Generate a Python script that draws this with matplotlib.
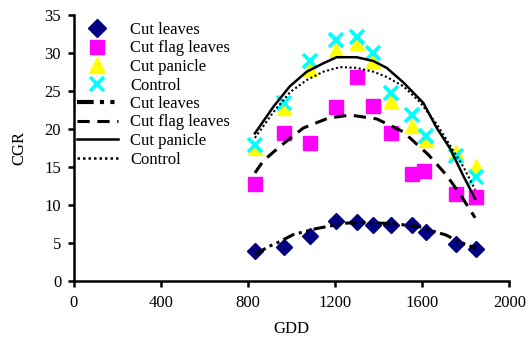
import matplotlib
matplotlib.use("Agg")
import matplotlib.pyplot as plt
from matplotlib.lines import Line2D

# Observed crop growth rate (CGR) against growing degree days (GDD)
gdd = [832, 966, 1085, 1203, 1302, 1376, 1455, 1552, 1616, 1755, 1847]
cut_leaves = [4.0, 4.5, 5.9, 7.9, 7.7, 7.3, 7.4, 7.4, 6.45, 4.8, 4.2]
gdd_flag = [832, 966, 1085, 1203, 1302, 1376, 1455, 1552, 1610, 1755, 1847]
cut_flag_leaves = [12.8, 19.5, 18.1, 22.9, 26.75, 23.0, 19.5, 14.1, 14.5, 11.45, 11.1]
cut_panicle = [17.5, 22.7, 27.8, 30.4, 31.3, 28.9, 23.6, 20.3, 18.55, 17.0, 15.1]
control = [17.9, 23.4, 28.9, 31.7, 32.0, 30.0, 24.7, 21.8, 19.0, 16.4, 13.7]

# Fitted response curves
fit_leaves_x = [832, 901, 948, 1008, 1116, 1246, 1345, 1483, 1590, 1644, 1709, 1766, 1847]
fit_leaves_y = [3.5, 4.6, 5.2, 6.1, 6.9, 7.6, 7.7, 7.5, 7.1, 6.6, 6.05, 5.2, 4.3]
fit_flag_x = [832, 871, 948, 1054, 1169, 1269, 1391, 1513, 1628, 1712, 1781, 1843]
fit_flag_y = [14.2, 15.8, 17.7, 20.1, 21.4, 21.8, 21.3, 19.6, 16.6, 13.9, 11.1, 8.3]
fit_panicle_x = [832, 917, 993, 1070, 1146, 1207, 1299, 1376, 1437, 1513, 1605, 1667, 1728, 1789, 1843]
fit_panicle_y = [19.4, 22.9, 25.6, 27.5, 28.6, 29.4, 29.4, 28.9, 28.0, 26.1, 23.4, 20.1, 17.4, 13.8, 10.8]
fit_control_x = [832, 917, 993, 1070, 1146, 1223, 1299, 1376, 1437, 1513, 1590, 1667, 1728, 1789, 1843]
fit_control_y = [18.8, 22.2, 24.8, 26.4, 27.5, 28.1, 28.0, 27.5, 26.8, 25.6, 23.5, 20.6, 17.8, 15.0, 12.0]

x_ticks = [0, 400, 800, 1200, 1600, 2000]
y_ticks = [0, 5, 10, 15, 20, 25, 30, 35]

plt.rcParams["font.family"] = ["Liberation Serif", "DejaVu Serif"]
plt.rcParams["font.size"] = 12

fig = plt.figure(figsize=(5.30, 3.39), dpi=100)
ax = fig.add_axes([0.139, 0.171, 0.822, 0.786])

navy, magenta, yellow, cyan = "#000080", "#FF00FF", "#FFFF00", "#00FFFF"

ax.plot(gdd, cut_leaves, linestyle="none", marker="D", ms=8.5, color=navy, zorder=3)
ax.plot(gdd_flag, cut_flag_leaves, linestyle="none", marker="s", ms=9.5, color=magenta, zorder=3)
ax.plot(gdd, cut_panicle, linestyle="none", marker="^", ms=10.5, color=yellow, zorder=3)
ax.plot(gdd, control, linestyle="none", marker="x", ms=10.5, mew=2.6, color=cyan, zorder=4)

ls_leaves = (0, (4, 1.5, 1, 1.5, 1, 1.5))
ls_flag = (0, (4, 2.5))
ls_control = (0, (1, 1.2))

ax.plot(fit_leaves_x, fit_leaves_y, color="black", lw=2.2, linestyle=ls_leaves, zorder=5)
ax.plot(fit_flag_x, fit_flag_y, color="black", lw=2.2, linestyle=ls_flag, zorder=5)
ax.plot(fit_panicle_x, fit_panicle_y, color="black", lw=1.8, linestyle="-", zorder=5)
ax.plot(fit_control_x, fit_control_y, color="black", lw=1.5, linestyle=ls_control, zorder=5)

ax.set_xlim(0, 2000)
ax.set_ylim(0, 35)
ax.set_xticks(x_ticks)
ax.set_yticks(y_ticks)
ax.set_xlabel("GDD", labelpad=7)
ax.set_ylabel("CGR", labelpad=12)

for side in ("top", "right"):
    ax.spines[side].set_visible(False)
for side in ("left", "bottom"):
    ax.spines[side].set_linewidth(1.8)
ax.tick_params(direction="out", length=4, width=1.8, pad=5)
ax.tick_params(axis="x", pad=6)

handles = [
    Line2D([], [], linestyle="none", marker="D", ms=9, color=navy),
    Line2D([], [], linestyle="none", marker="s", ms=10, color=magenta),
    Line2D([], [], linestyle="none", marker="^", ms=11, color=yellow),
    Line2D([], [], linestyle="none", marker="x", ms=10, mew=2.6, color=cyan),
    Line2D([], [], color="black", lw=3, linestyle=ls_leaves),
    Line2D([], [], color="black", lw=2.2, linestyle=ls_flag),
    Line2D([], [], color="black", lw=1.8, linestyle="-"),
    Line2D([], [], color="black", lw=1.8, linestyle=ls_control),
]
labels = ["Cut leaves", "Cut flag leaves", "Cut panicle", "Control",
          "Cut leaves", "Cut flag leaves", "Cut panicle", "Control"]
fig.legend(handles, labels, loc="upper left",
           bbox_to_anchor=(77 / 530, 1 - 22 / 339), bbox_transform=fig.transFigure,
           frameon=False, borderpad=0, borderaxespad=0,
           handlelength=2.45, handletextpad=0.75, labelspacing=0.15)

fig.savefig("out.png", dpi=100)
